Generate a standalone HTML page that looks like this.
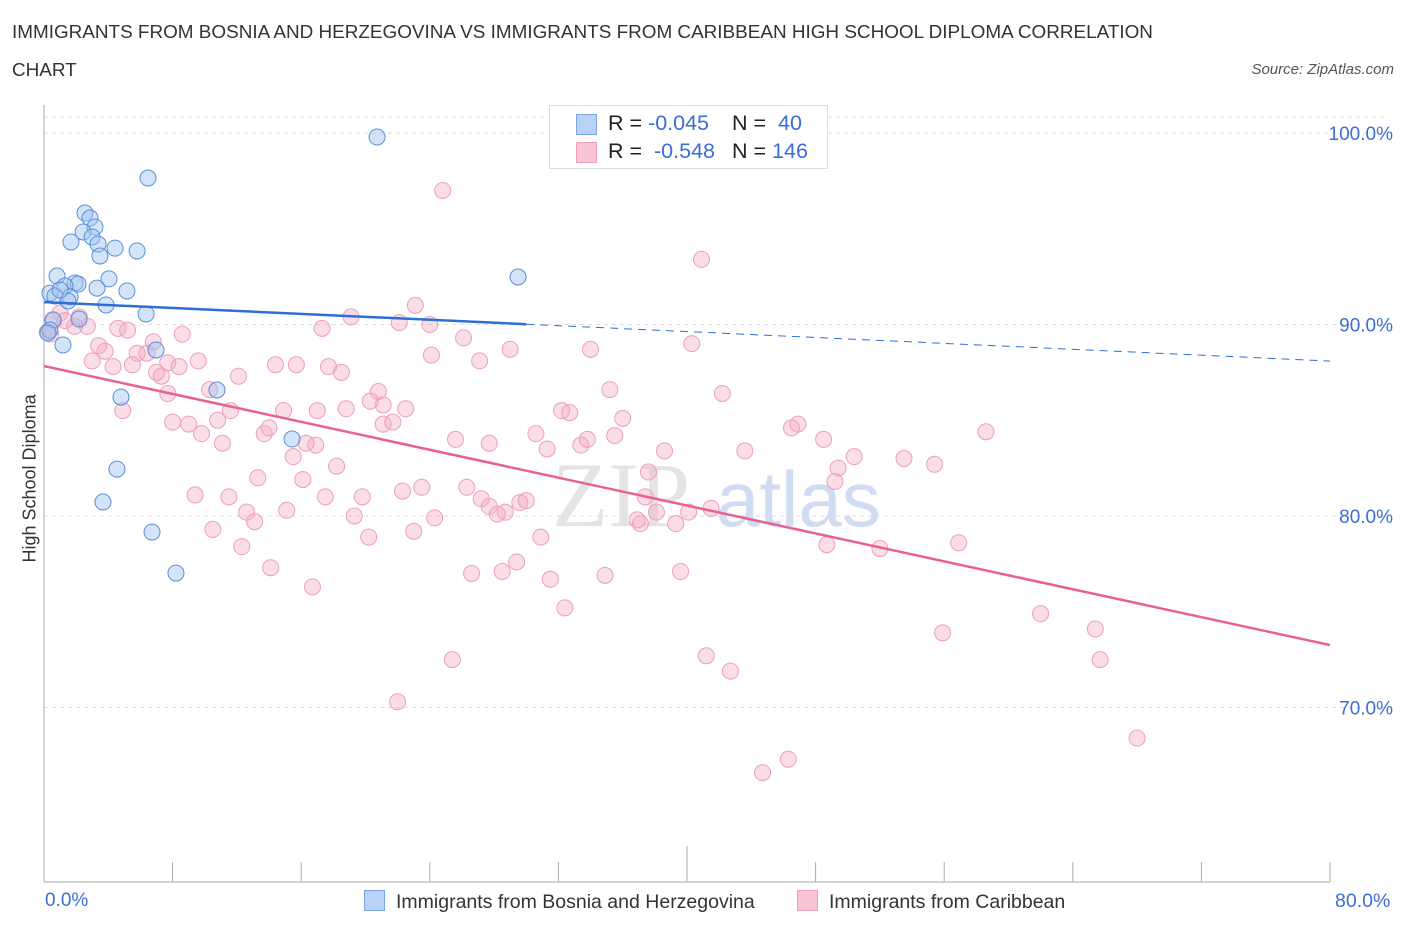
<!DOCTYPE html>
<html><head><meta charset="utf-8"><style>
body{margin:0;background:#fff;font-family:"Liberation Sans",sans-serif;}
#wrap{position:relative;width:1406px;height:930px;overflow:hidden;}
.t{position:absolute;white-space:nowrap;}
</style></head><body>
<div id="wrap">
<div class="t" style="left:12px;top:14px;font-size:18.9px;color:#333;line-height:38px;">IMMIGRANTS FROM BOSNIA AND HERZEGOVINA VS IMMIGRANTS FROM CARIBBEAN HIGH SCHOOL DIPLOMA CORRELATION<br>CHART</div>
<div class="t" style="right:12px;top:61px;font-size:15px;color:#555;font-style:italic;">Source: ZipAtlas.com</div>
<svg id="svg" width="1406" height="930" style="position:absolute;left:0;top:0"></svg>
</div>
<script>
const blueX=[20.72,6.47,2.55,2.86,3.17,2.43,2.99,1.68,3.36,4.42,5.79,3.48,0.81,4.04,1.93,2.12,1.31,3.30,5.16,0.37,0.68,1.62,1.49,3.86,6.35,2.18,0.56,0.37,1.18,6.97,29.49,10.76,4.79,15.43,4.54,3.67,6.72,8.21,0.25,1.00];
const blueY=[99.79,97.65,95.82,95.56,95.09,94.83,94.57,94.31,94.20,93.99,93.84,93.58,92.53,92.38,92.17,92.11,92.01,91.90,91.75,91.64,91.49,91.44,91.23,91.02,90.55,90.29,90.24,89.71,88.93,88.67,92.48,86.58,86.21,84.02,82.45,80.73,79.16,77.02,89.56,91.80];
const pinkX=[24.8,40.9,23.1,19.1,1.0,0.6,2.2,1.9,2.7,4.6,5.2,8.6,17.3,24.0,26.1,22.1,29.0,27.1,34.0,40.3,3.4,3.8,3.0,5.8,6.4,6.8,7.7,9.6,14.4,15.7,17.7,18.5,24.1,4.3,5.5,7.0,7.3,8.4,12.1,10.3,7.7,20.8,35.2,42.2,4.9,8.0,9.0,9.8,10.8,11.6,14.9,17.0,18.8,20.3,21.1,22.5,21.1,21.7,32.2,32.7,36.0,46.9,46.5,58.6,13.7,14.0,11.1,15.5,16.9,16.3,25.6,27.7,30.6,31.3,33.4,33.8,35.5,38.6,43.6,48.5,50.4,53.5,55.4,49.4,37.6,49.2,13.3,16.1,18.2,9.4,11.5,17.5,19.8,22.3,23.5,26.3,27.2,27.7,29.6,30.0,28.7,37.4,38.1,40.1,41.5,15.1,12.6,13.1,19.3,24.3,28.2,36.9,37.1,39.3,10.5,20.2,23.0,30.9,48.7,56.9,52.0,12.3,14.1,16.7,26.6,28.5,29.4,31.5,34.9,39.6,32.4,55.9,62.0,65.4,65.7,25.4,41.2,42.7,22.0,68.0,44.7,46.3,0.4,0.2,1.3];
const pinkY=[97.0,93.4,91.0,90.4,90.6,90.2,90.4,89.9,89.9,89.8,89.7,89.5,89.8,90.0,89.3,90.1,88.7,88.1,88.7,89.0,88.9,88.6,88.1,88.5,88.5,89.1,88.0,88.1,87.9,87.9,87.8,87.5,88.4,87.8,87.9,87.5,87.3,87.8,87.3,86.6,86.4,86.5,86.6,86.4,85.5,84.9,84.8,84.3,85.0,85.5,85.5,85.5,85.6,86.0,85.8,85.6,84.8,84.9,85.5,85.4,85.1,84.8,84.6,84.4,84.3,84.6,83.8,83.1,83.7,83.8,84.0,83.8,84.3,83.5,83.7,84.0,84.2,83.4,83.4,84.0,83.1,83.0,82.7,82.5,82.3,81.8,82.0,81.9,82.6,81.1,81.0,81.0,81.0,81.3,81.5,81.5,80.9,80.5,80.7,80.8,80.2,81.0,80.2,80.2,80.4,80.3,80.2,79.7,80.0,79.9,80.1,79.8,79.6,79.6,79.3,78.9,79.2,78.9,78.5,78.6,78.3,78.4,77.3,76.3,77.0,77.1,77.6,76.7,76.9,77.1,75.2,73.9,74.9,74.1,72.5,72.5,72.7,71.9,70.3,68.4,66.6,67.3,89.5,89.6,90.2];
const blueTrend=[91.17,88.09];const blueSolidEnd=30.0;
const pinkTrend=[87.83,73.26];
const yTicks=[100,90,80,70];
const yTickLabels=["100.0%","90.0%","80.0%","70.0%"];
const xTicks=[0,8,16,24,32,40,48,56,64,72,80];

const NS="http://www.w3.org/2000/svg";
const svg=document.getElementById('svg');
const X=v=>44+v*16.075, Y=v=>133+(100-v)*19.15;
function mk(t,a){const e=document.createElementNS(NS,t);for(const k in a)e.setAttribute(k,a[k]);svg.appendChild(e);return e;}
let g=mk('line',{x1:44,x2:1388,y1:117,y2:117,stroke:'#ddd','stroke-dasharray':'4,4'});


yTicks.forEach((v,i)=>{
 const l=mk('line',{x1:44,x2:1388,y1:Y(v),y2:Y(v),stroke:'#ddd','stroke-dasharray':'4,4'});
 
 
 const t=mk('text',{x:1393,y:Y(v)+7,'text-anchor':'end','font-size':19,fill:'#3b6fd4','font-family':'Liberation Sans, sans-serif'});
 t.textContent=yTickLabels[i];
 
 
});
let ax=mk('line',{x1:44,x2:44,y1:105,y2:882,stroke:'#aaa'});


ax=mk('line',{x1:44,x2:1330,y1:882,y2:882,stroke:'#aaa'});


xTicks.forEach((v,i)=>{
 const l=mk('line',{x1:X(v),x2:X(v),y1:882,y2:i==5?846:862,stroke:'#aaa'});
 
 
});
let wm=mk('text',{x:552,y:526,'font-size':92,fill:'#e4e4e4','font-family':'Liberation Serif, serif'});wm.textContent='ZIP';


wm=mk('text',{x:716,y:526,'font-size':78,fill:'#cfdcf2','font-family':'Liberation Sans, sans-serif'});wm.textContent='atlas';


pinkX.forEach((x,i)=>{const c=mk('circle',{cx:X(x),cy:Y(pinkY[i]),r:8,fill:'rgba(245,170,195,0.4)',stroke:'#eaa0ba','stroke-width':1});
 
 });
blueX.forEach((x,i)=>{const c=mk('circle',{cx:X(x),cy:Y(blueY[i]),r:8,fill:'rgba(160,195,240,0.45)',stroke:'#5b8fd8','stroke-width':1});
 
 });
const by=x=>blueTrend[0]+(blueTrend[1]-blueTrend[0])*x/80;
let tl=mk('line',{x1:X(0),y1:Y(by(0)),x2:X(blueSolidEnd),y2:Y(by(blueSolidEnd)),stroke:'#2c6fd6','stroke-width':2.5});


tl=mk('line',{x1:X(blueSolidEnd),y1:Y(by(blueSolidEnd)),x2:X(80),y2:Y(by(80)),stroke:'#2c6fd6','stroke-width':1,'stroke-dasharray':'8,6'});


tl=mk('line',{x1:X(0),y1:Y(pinkTrend[0]),x2:X(80),y2:Y(pinkTrend[1]),stroke:'#e8628f','stroke-width':2.5});


</script>
<div class="t" style="left:-40px;top:482px;transform:rotate(-90deg);font-size:18px;color:#333;width:140px;text-align:center;">High School Diploma</div>
<div class="t" style="left:45px;top:890px;font-size:19px;color:#3b6fd4;">0.0%</div>
<div class="t" style="left:1335px;top:890px;font-size:19.5px;color:#3b6fd4;">80.0%</div>
<div class="t" style="left:549px;top:105px;width:277px;height:62px;border:1px solid #ddd;background:#fff;font-size:21.5px;color:#222;">
 <div style="position:absolute;left:26px;top:8px;width:19px;height:19px;background:#b8d2f5;border:1px solid #7aa6e4;"></div>
 <div style="position:absolute;left:58px;top:5px;">R = <span style="color:#3b6fd4">-0.045</span></div>
 <div style="position:absolute;left:182px;top:5px;">N = &nbsp;<span style="color:#3b6fd4">40</span></div>
 <div style="position:absolute;left:26px;top:36px;width:19px;height:19px;background:#f9c5d4;border:1px solid #eaa0ba;"></div>
 <div style="position:absolute;left:58px;top:33px;">R = &nbsp;<span style="color:#3b6fd4">-0.548</span></div>
 <div style="position:absolute;left:182px;top:33px;">N = <span style="color:#3b6fd4">146</span></div>
</div>
<div class="t" style="left:364px;top:890px;font-size:19.5px;color:#333;"><span style="display:inline-block;width:19px;height:19px;background:#b8d2f5;border:1px solid #7aa6e4;vertical-align:-3px;margin-right:11px;"></span>Immigrants from Bosnia and Herzegovina</div>
<div class="t" style="left:797px;top:890px;font-size:19.5px;color:#333;"><span style="display:inline-block;width:19px;height:19px;background:#f9c5d4;border:1px solid #eaa0ba;vertical-align:-3px;margin-right:11px;"></span>Immigrants from Caribbean</div>
</body></html>
